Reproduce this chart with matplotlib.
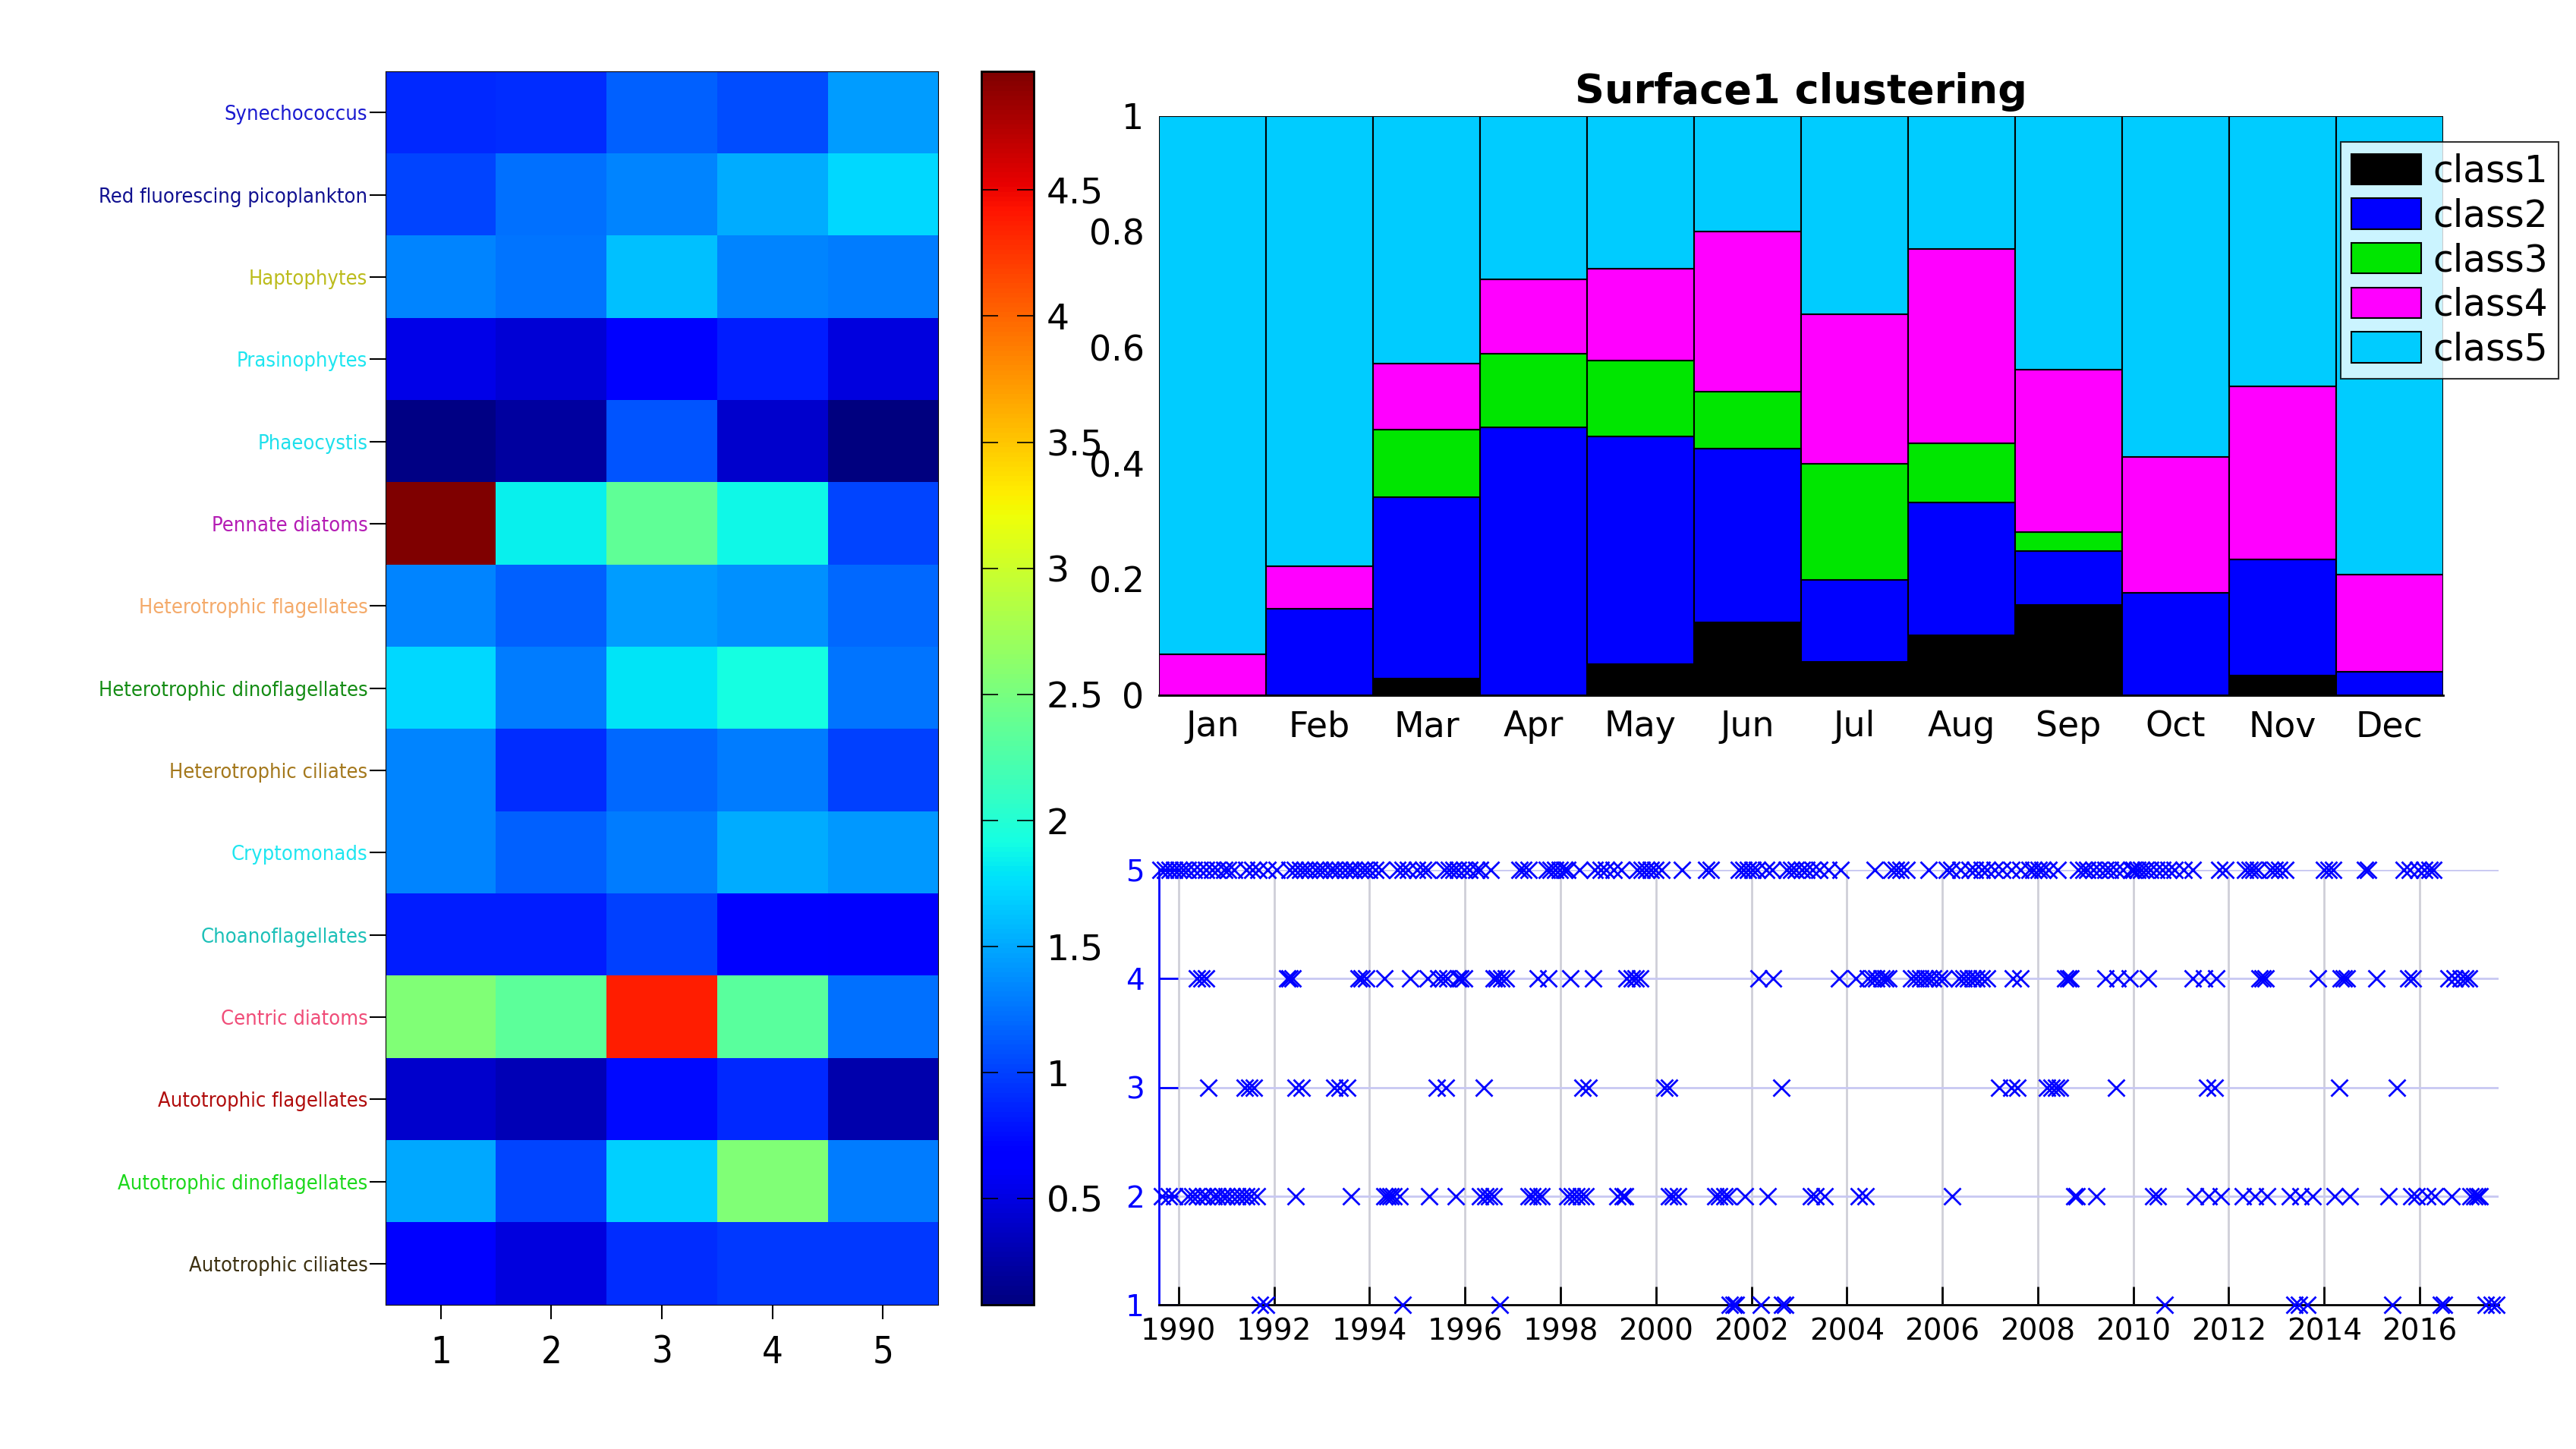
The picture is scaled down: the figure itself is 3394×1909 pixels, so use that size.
import numpy as np
import matplotlib
matplotlib.use('Agg')
import matplotlib.pyplot as plt

# ---- heatmap: mean abundance per group and cluster ----
groups = ['Synechococcus', 'Red fluorescing picoplankton', 'Haptophytes', 'Prasinophytes',
          'Phaeocystis', 'Pennate diatoms', 'Heterotrophic flagellates',
          'Heterotrophic dinoflagellates', 'Heterotrophic ciliates', 'Cryptomonads',
          'Choanoflagellates', 'Centric diatoms', 'Autotrophic flagellates',
          'Autotrophic dinoflagellates', 'Autotrophic ciliates']
group_colors = ['#1a1ad0', '#101090', '#bcbc1c', '#1ee6f0', '#1ee0ec', '#b41cb4', '#f4aa6a',
                '#148c14', '#a4781c', '#1ee6f0', '#1cc0b8', '#f04c78', '#b00c0c',
                '#1cd81c', '#3c3010']
cluster_ids = [1, 2, 3, 4, 5]
cluster_means = np.array([
    [0.89, 0.91, 1.16, 1.06, 1.45],
    [1.03, 1.23, 1.34, 1.53, 1.73],
    [1.34, 1.26, 1.61, 1.34, 1.30],
    [0.52, 0.46, 0.69, 0.84, 0.49],
    [0.11, 0.22, 1.11, 0.42, 0.08],
    [4.97, 1.84, 2.36, 1.89, 1.03],
    [1.34, 1.16, 1.45, 1.38, 1.19],
    [1.73, 1.30, 1.79, 1.93, 1.26],
    [1.34, 0.91, 1.19, 1.30, 1.00],
    [1.34, 1.16, 1.30, 1.53, 1.42],
    [0.84, 0.84, 1.00, 0.66, 0.62],
    [2.55, 2.34, 4.36, 2.32, 1.23],
    [0.42, 0.32, 0.73, 0.89, 0.29],
    [1.50, 1.03, 1.69, 2.55, 1.30],
    [0.68, 0.49, 0.91, 0.96, 0.96],
])
cbar_ticks = [0.5, 1, 1.5, 2, 2.5, 3, 3.5, 4, 4.5]

# ---- monthly class fractions ----
months = ['Jan', 'Feb', 'Mar', 'Apr', 'May', 'Jun', 'Jul', 'Aug', 'Sep', 'Oct', 'Nov', 'Dec']
class_names = ['class1', 'class2', 'class3', 'class4', 'class5']
class_colors = ['#000000', '#0000ff', '#00e600', '#ff00ff', '#00ccff']
class1 = [0.000, 0.000, 0.028, 0.000, 0.053, 0.126, 0.057, 0.103, 0.156, 0.000, 0.034, 0.000]
class2 = [0.000, 0.149, 0.314, 0.462, 0.394, 0.299, 0.142, 0.230, 0.093, 0.176, 0.200, 0.040]
class3 = [0.000, 0.000, 0.116, 0.128, 0.131, 0.099, 0.201, 0.102, 0.032, 0.000, 0.000, 0.000]
class4 = [0.070, 0.073, 0.114, 0.128, 0.158, 0.276, 0.257, 0.335, 0.281, 0.235, 0.299, 0.168]
class5 = [0.930, 0.778, 0.428, 0.282, 0.264, 0.200, 0.343, 0.230, 0.438, 0.589, 0.467, 0.792]

# ---- sample dates (decimal year) per assigned class ----
years_c1 = [1991.70, 1991.83, 1994.70, 1996.73, 2001.55, 2001.62, 2001.68, 2002.20, 2002.65,
            2002.71, 2010.65, 2013.37, 2013.47, 2013.65, 2015.43, 2016.45, 2016.51, 2017.39,
            2017.51, 2017.61]
years_c2 = [1989.66, 1989.79, 1989.91, 1990.19, 1990.29, 1990.38, 1990.51, 1990.60, 1990.73,
            1990.82, 1990.92, 1991.01, 1991.11, 1991.23, 1991.33, 1991.42, 1991.51, 1991.64,
            1992.46, 1993.61, 1994.31, 1994.37, 1994.44, 1994.50, 1994.63, 1995.25, 1995.80,
            1996.32, 1996.42, 1996.51, 1996.61, 1997.33, 1997.42, 1997.52, 1997.61, 1998.15,
            1998.24, 1998.33, 1998.43, 1998.52, 1999.20, 1999.30, 1999.36, 2000.27, 2000.36,
            2000.46, 2001.24, 2001.33, 2001.43, 2001.52, 2001.87, 2002.34, 2003.25, 2003.34,
            2003.53, 2004.25, 2004.40, 2006.21, 2008.76, 2008.82, 2009.22, 2010.42, 2010.51,
            2011.30, 2011.58, 2011.83, 2012.30, 2012.55, 2012.81, 2013.28, 2013.50, 2013.75,
            2014.22, 2014.53, 2015.35, 2015.82, 2015.94, 2016.16, 2016.32, 2016.67, 2017.07,
            2017.14, 2017.20, 2017.26]
years_c3 = [1990.62, 1991.39, 1991.48, 1991.58, 1992.46, 1992.58, 1993.27, 1993.37, 1993.53,
            1995.41, 1995.60, 1996.40, 1998.46, 1998.59, 2000.18, 2000.27, 2002.62, 2007.19,
            2007.44, 2007.57, 2008.19, 2008.29, 2008.38, 2008.47, 2009.64, 2011.55, 2011.71,
            2014.31, 2015.52]
years_c4 = [1990.38, 1990.48, 1990.57, 1992.27, 1992.33, 1992.39, 1993.78, 1993.84, 1993.93,
            1994.31, 1994.85, 1995.22, 1995.44, 1995.54, 1995.63, 1995.85, 1995.91, 1995.98,
            1996.61, 1996.67, 1996.76, 1996.86, 1997.52, 1997.74, 1998.21, 1998.68, 1999.39,
            1999.49, 1999.58, 1999.67, 2002.15, 2002.46, 2003.84, 2004.19, 2004.44, 2004.53,
            2004.62, 2004.72, 2004.81, 2004.87, 2005.34, 2005.44, 2005.53, 2005.63, 2005.72,
            2005.81, 2005.94, 2006.03, 2006.35, 2006.44, 2006.54, 2006.63, 2006.72, 2006.82,
            2006.94, 2007.47, 2007.63, 2008.57, 2008.63, 2008.69, 2009.42, 2009.67, 2009.92,
            2010.30, 2011.24, 2011.49, 2011.74, 2012.65, 2012.71, 2012.77, 2013.87, 2014.34,
            2014.41, 2014.47, 2015.10, 2015.76, 2015.85, 2016.60, 2016.73, 2016.85, 2016.95,
            2017.04]
years_c5 = [1989.63, 1989.72, 1989.82, 1989.91, 1990.01, 1990.10, 1990.19, 1990.32, 1990.45,
            1990.57, 1990.70, 1990.82, 1990.95, 1991.04, 1991.17, 1991.42, 1991.55, 1991.67,
            1991.86, 1992.05, 1992.33, 1992.43, 1992.55, 1992.65, 1992.74, 1992.87, 1992.96,
            1993.05, 1993.18, 1993.27, 1993.37, 1993.49, 1993.59, 1993.68, 1993.81, 1993.90,
            1994.00, 1994.12, 1994.25, 1994.59, 1994.69, 1994.81, 1995.00, 1995.13, 1995.22,
            1995.57, 1995.66, 1995.76, 1995.85, 1995.98, 1996.10, 1996.23, 1996.32, 1996.54,
            1997.14, 1997.23, 1997.33, 1997.71, 1997.80, 1997.89, 1997.99, 1998.08, 1998.15,
            1998.40, 1998.71, 1998.84, 1998.96, 1999.11, 1999.27, 1999.61, 1999.71, 1999.80,
            1999.89, 1999.99, 2000.11, 2000.55, 2001.05, 2001.15, 2001.74, 2001.84, 2001.93,
            2002.02, 2002.12, 2002.31, 2002.43, 2002.74, 2002.84, 2002.93, 2003.06, 2003.15,
            2003.28, 2003.43, 2003.62, 2003.87, 2004.59, 2004.94, 2005.03, 2005.13, 2005.25,
            2005.72, 2006.10, 2006.19, 2006.38, 2006.57, 2006.69, 2006.82, 2006.94, 2007.10,
            2007.26, 2007.44, 2007.63, 2007.82, 2007.91, 2008.01, 2008.10, 2008.22, 2008.41,
            2008.85, 2008.95, 2009.04, 2009.17, 2009.29, 2009.42, 2009.51, 2009.64, 2009.79,
            2009.95, 2010.01, 2010.08, 2010.17, 2010.26, 2010.36, 2010.48, 2010.61, 2010.73,
            2010.86, 2011.05, 2011.24, 2011.80, 2011.93, 2012.34, 2012.43, 2012.52, 2012.62,
            2012.87, 2012.96, 2013.06, 2013.18, 2014.00, 2014.09, 2014.19, 2014.85, 2014.91,
            2015.66, 2015.79, 2015.97, 2016.10, 2016.20, 2016.29]
year_ticks = list(range(1990, 2017, 2))

fig = plt.figure(figsize=(33.94, 19.09), dpi=100)

# heatmap
ax1 = fig.add_axes([0.1497, 0.0995, 0.2145, 0.8512])
im = ax1.imshow(cluster_means, cmap='jet', aspect='auto', interpolation='nearest',
                extent=(0.5, 5.5, len(groups) + 0.5, 0.5))
ax1.set_xticks(cluster_ids)
ax1.set_xticklabels([str(c) for c in cluster_ids], fontsize=35, fontstretch='condensed')
ax1.set_yticks(range(1, len(groups) + 1))
ax1.set_yticklabels(groups, fontsize=19.5, fontstretch='condensed')
for lbl, c in zip(ax1.get_yticklabels(), group_colors):
    lbl.set_color(c)
ax1.tick_params(axis='y', length=15, width=1.5, pad=2)
ax1.tick_params(axis='x', length=14, width=1.5, pad=14)
for s in ax1.spines.values():
    s.set_linewidth(0.8)

# colorbar
cax = fig.add_axes([0.381, 0.0995, 0.0203, 0.8512])
cb = fig.colorbar(im, cax=cax, ticks=cbar_ticks)
cb.ax.set_yticklabels(['%g' % t for t in cbar_ticks])
cb.ax.tick_params(direction='in', left=True, right=True, length=16, width=1.2,
                  labelsize=34, pad=12)
cb.outline.set_linewidth(2)

# stacked monthly bars
ax2 = fig.add_axes([0.4499, 0.5203, 0.4985, 0.3997])
x = np.arange(1, len(months) + 1)
bottom = np.zeros(len(months))
for vals, name, col in zip([class1, class2, class3, class4, class5], class_names, class_colors):
    ax2.bar(x, vals, width=1.0, bottom=bottom, color=col, edgecolor='black',
            linewidth=1.5, label=name)
    bottom += np.array(vals)
ax2.set_xlim(0.5, 12.5)
ax2.set_ylim(0, 1)
ax2.set_xticks(x)
ax2.set_xticklabels(months)
ax2.set_yticks([0, 0.2, 0.4, 0.6, 0.8, 1])
ax2.set_yticklabels(['0', '0.2', '0.4', '0.6', '0.8', '1'])
ax2.tick_params(length=0, labelsize=33, pad=14)
for side in ['top', 'right', 'left']:
    ax2.spines[side].set_visible(False)
ax2.spines['bottom'].set_linewidth(2)
ax2.set_title('Surface1 clustering', fontsize=39, fontweight='bold', pad=12)
leg = ax2.legend(loc='upper left', bbox_to_anchor=(0.920, 0.955), borderaxespad=0,
                 fontsize=35, frameon=True, fancybox=False, handlelength=1.9,
                 handleheight=0.9, labelspacing=0.22, handletextpad=0.3,
                 borderpad=0.3)
leg.get_frame().set_edgecolor('black')
leg.get_frame().set_linewidth(1.5)
leg.set_zorder(10)

# class time series
ax3 = fig.add_axes([0.4499, 0.0995, 0.52, 0.3002])
ax3.set_axisbelow(True)
for k, yrs in enumerate([years_c1, years_c2, years_c3, years_c4, years_c5], start=1):
    ax3.plot(yrs, [k] * len(yrs), 'x', color='blue', ms=16, mew=2.0, ls='none',
             clip_on=False, zorder=3)
ax3.set_xlim(1989.59, 2017.65)
ax3.set_ylim(1, 5)
ax3.set_xticks(year_ticks)
ax3.set_yticks([1, 2, 3, 4, 5])
ax3.grid(axis='x', color='#cfcfd8', lw=2)
ax3.grid(axis='y', color='#c8c8f2', lw=2)
ax3.spines['top'].set_visible(False)
ax3.spines['right'].set_visible(False)
ax3.spines['left'].set_color('blue')
ax3.spines['left'].set_linewidth(2)
ax3.spines['bottom'].set_linewidth(2)
ax3.tick_params(axis='y', colors='blue', direction='in', length=18, width=2,
                labelsize=28, pad=14)
ax3.tick_params(axis='x', direction='in', length=17, width=2, labelsize=28, pad=12)

fig.savefig('out.png', dpi=100)
